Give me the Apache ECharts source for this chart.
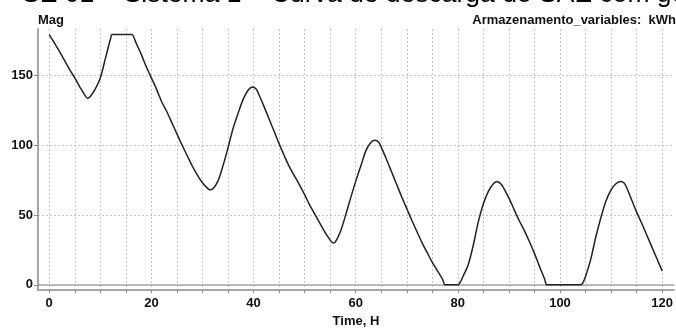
<!DOCTYPE html>
<html>
<head>
<meta charset="utf-8">
<script src="https://cdn.jsdelivr.net/npm/echarts@6/dist/echarts.min.js"></script>
<style>
  html, body { margin: 0; padding: 0; background: #ffffff; }
  #chart { width: 676px; height: 333px; }
</style>
</head>
<body>
<div id="chart"></div>
<script>
// Stored energy over time (hours)
const timeH = [
  0, 1, 2, 3, 4, 5, 6, 7, 7.5, 8, 9, 10, 11, 12, 12.3, 13, 14, 15, 16, 16.2,
  17, 18, 19, 20, 21, 22, 23, 24, 25, 26, 27, 28, 29, 30, 31, 31.5, 32, 33, 34, 35,
  36, 37, 38, 39, 39.8, 40.5, 41, 42, 43, 44, 45, 46, 47, 48, 49, 50, 51, 52, 53, 54,
  55, 55.6, 56, 57, 58, 59, 60, 61, 62, 63, 63.8, 64.5, 65, 66, 67, 68, 69, 70, 71, 72,
  73, 74, 75, 76, 77, 77.5, 78, 79, 80, 80.5, 81, 82, 83, 84, 85, 86, 87, 87.7, 88.5, 89,
  90, 91, 92, 93, 94, 95, 96, 97, 97.4, 98, 100, 102, 104.1, 104.5, 105, 106, 107, 108, 109, 110,
  111, 111.9, 112.5, 113, 114, 115, 116, 117, 118, 119, 120
];
const storageKWh = [
  179, 173, 167, 160.5, 154, 148, 141.5, 135.5, 133.5, 134.5, 140, 148, 162, 176, 179, 179, 179, 179, 179, 179,
  173, 165, 156, 148, 140, 131, 124, 116, 108, 100, 92.5, 85, 78.5, 73, 69, 68, 68.5, 74, 85, 98,
  112, 123, 133, 139.5, 141.5, 140, 136.5, 128, 119, 110, 101, 92.5, 84.5, 78, 71.5, 64.5, 57, 50.5, 44, 37.5,
  32, 30, 30.5, 38, 49.5, 62, 74, 85, 96, 102, 103.5, 102, 98.5, 90, 81, 72, 63, 54.5, 46, 38,
  30, 23, 16, 10, 4, 0, 0, 0, 0, 2, 6, 14, 28, 45, 58, 67, 72.5, 74, 72, 69,
  62, 54, 46, 39, 31, 22.5, 13, 4, 0, 0, 0, 0, 0, 1.5, 6, 18, 34, 48, 60, 68,
  72.5, 74, 73, 70, 61, 52, 44, 35.5, 27, 18.5, 10
];

// Axis ticks and labels
const xTickValues = [0, 5, 10, 15, 20, 25, 30, 35, 40, 45, 50, 55, 60, 65, 70, 75, 80, 85, 90, 95, 100, 105, 110, 115, 120];
const xLabelValues = [0, 20, 40, 60, 80, 100, 120];
const yTickValues = [0, 50, 100, 150];

const titleText = 'SE 01 – Sistema 1 – Curva de descarga do SAE com geração';
const yUnitText = 'Mag';
const seriesText = 'Armazenamento_variables:  kWh';
const xNameText = 'Time, H';

const axisGrey = '#a6a6a6';
const gridGrey = '#c4c4c4';
const labelFont = {
  color: '#111111', fontFamily: 'Liberation Sans, Arial, sans-serif',
  fontWeight: 'bold', fontSize: 13
};

const chart = echarts.init(document.getElementById('chart'), null, { renderer: 'canvas' });

chart.setOption({
  animation: false,
  backgroundColor: '#ffffff',
  grid: { left: 38, right: 0, top: 29, bottom: 37, containLabel: false },
  graphic: [
    {
      type: 'text', left: 22, top: -19, silent: true,
      style: {
        text: titleText, fill: '#000000',
        font: 'normal 26.5px "Liberation Sans", Arial, sans-serif'
      }
    },
    {
      type: 'text', left: 38, top: 14, silent: true,
      style: {
        text: yUnitText, fill: '#111111',
        font: 'bold 13px "Liberation Sans", Arial, sans-serif'
      }
    },
    {
      type: 'text', right: 0, top: 14, silent: true,
      style: {
        text: seriesText, fill: '#111111',
        font: 'bold 13px "Liberation Sans", Arial, sans-serif'
      }
    }
  ],
  xAxis: [
    {
      type: 'value', min: -2.2, max: 122.3,
      name: xNameText, nameLocation: 'middle', nameGap: 25,
      nameTextStyle: labelFont,
      axisLine: { show: true, onZero: false, lineStyle: { color: axisGrey, width: 2 } },
      axisTick: { show: true, length: 3, customValues: xTickValues, lineStyle: { color: '#888888' } },
      axisLabel: { customValues: xLabelValues, margin: 7, ...labelFont },
      splitLine: { show: true, lineStyle: { color: gridGrey, type: [2, 2], width: 1 } }
    },
    {
      type: 'value', position: 'top', min: -2.2, max: 122.3,
      axisLine: { show: true, lineStyle: { color: axisGrey, width: 1.5 } },
      axisTick: { show: false }, axisLabel: { show: false }, splitLine: { show: false }
    }
  ],
  yAxis: {
    type: 'value', min: -3.7, max: 183,
    axisLine: { show: true, onZero: false, lineStyle: { color: axisGrey, width: 2 } },
    axisTick: { show: true, length: 4, customValues: yTickValues, lineStyle: { color: '#888888' } },
    axisLabel: { customValues: yTickValues, margin: 5, ...labelFont },
    splitLine: { show: true, lineStyle: { color: gridGrey, type: [2, 2], width: 1 } }
  },
  series: [
    {
      type: 'line', xAxisIndex: 0,
      data: timeH.map((t, i) => [t, storageKWh[i]]),
      showSymbol: false, smooth: 0.3,
      lineStyle: { color: '#222222', width: 1.5 }
    }
  ]
});
</script>
</body>
</html>
